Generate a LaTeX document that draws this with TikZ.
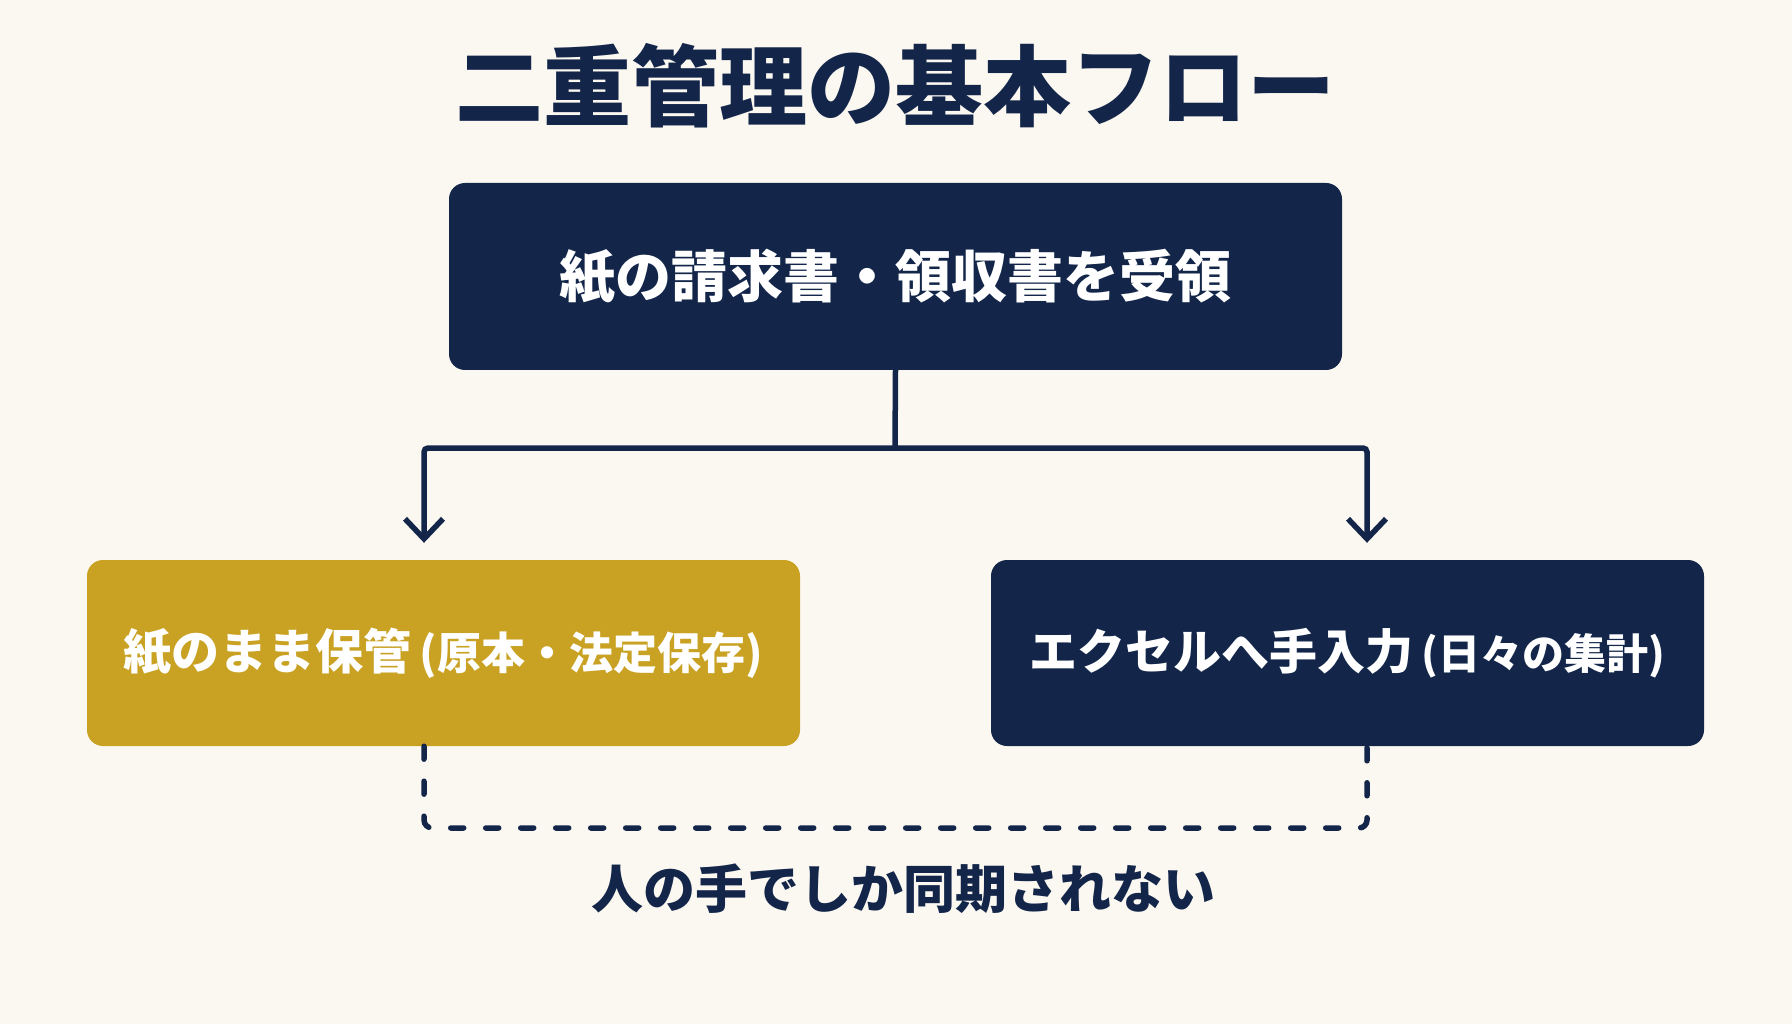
\documentclass[tikz,border=0pt]{standalone}
\usepackage{fontspec}
\setmainfont{Noto Sans CJK JP}
\usetikzlibrary{arrows.meta}
\definecolor{navy}{HTML}{13264A}
\definecolor{gold}{HTML}{C9A224}
\definecolor{cream}{HTML}{FBF8F1}

\begin{document}
\begin{tikzpicture}[x=1pt,y=-1pt,
    box/.style={rounded corners=16pt, minimum width=713pt, minimum height=186pt, inner sep=0pt, text=white, font=\bfseries\fontsize{48}{52}\selectfont},
    flow/.style={draw=navy, line width=5.5pt, rounded corners=4pt, -{Straight Barb[length=20pt,width=38pt,line width=5.5pt]}},
    sync/.style={draw=navy, line width=5.5pt, dash pattern=on 13pt off 22pt, line cap=round, rounded corners=8pt}]
    % background, fixes the margins
    \fill[cream] (0,0) rectangle (1792,1024);

    \node[text=navy, font=\bfseries\fontsize{88}{94}\selectfont] (title) at (895,86) {二重管理の基本フロー};

    \node[box, fill=navy, minimum width=893pt, minimum height=187pt, font=\bfseries\fontsize{56}{60}\selectfont] (recv) at (895.5,276.5) {紙の請求書・領収書を受領};
    \node[box, fill=gold] (paper) at (443.5,653) {紙のまま保管\hspace{8pt}{\fontsize{44}{48}\selectfont(原本・法定保存)}};
    \node[box, fill=navy] (excel) at (1347.5,653) {エクセルへ手入力\hspace{8pt}{\fontsize{42}{46}\selectfont(日々の集計)}};

    \node[text=navy, font=\bfseries\fontsize{52}{56}\selectfont] (note) at (903,889) {人の手でしか同期されない};

    % split into the two paths
    \coordinate (split) at (895,448);
    \draw[navy, line width=5.5pt] (recv.south) -- (split);
    \draw[flow] (split) -| ([xshift=-19.5pt,yshift=17pt]paper.north);
    \draw[flow] (split) -| ([xshift=19.5pt,yshift=17pt]excel.north);

    % manual sync
    \coordinate (low) at (895,828);
    \draw[sync] ([xshift=-19.5pt]paper.south) |- (low) -| ([xshift=19.5pt]excel.south);
\end{tikzpicture}
\end{document}
